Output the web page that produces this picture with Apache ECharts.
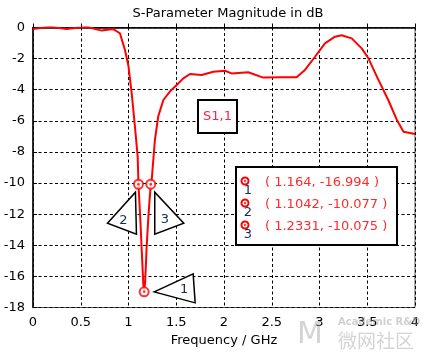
<!DOCTYPE html>
<html><head><meta charset="utf-8">
<script src="https://cdn.jsdelivr.net/npm/echarts@6/dist/echarts.min.js"></script>
<style>html,body{margin:0;padding:0;background:#fff}#c{width:430px;height:357px}</style>
</head><body><div id="c"></div>
<script>
const freq = [0,0.18,0.35,0.56,0.72,0.84,0.91,0.963,1.0,1.033,1.068,1.096,1.1042,1.125,1.14,1.155,1.164,1.175,1.19,1.21,1.2331,1.243,1.277,1.312,1.365,1.435,1.505,1.574,1.644,1.766,1.888,2.01,2.08,2.254,2.41,2.604,2.76,2.848,2.953,3.057,3.162,3.232,3.337,3.442,3.512,3.617,3.72,3.81,3.88,4.0];
const s11 = [-0.1,0.05,-0.1,0.05,-0.2,-0.1,-0.37,-1.45,-2.5,-4.2,-6.4,-8.3,-10.077,-12.5,-14.5,-16.5,-16.994,-16.3,-14.1,-12.0,-10.075,-9.8,-7.2,-5.7,-4.66,-4.1,-3.7,-3.27,-2.99,-3.05,-2.84,-2.78,-2.95,-2.88,-3.22,-3.2,-3.2,-2.73,-1.88,-1.02,-0.59,-0.5,-0.7,-1.34,-1.98,-3.37,-4.66,-5.94,-6.7,-6.85];
const markerFreq = [1.164, 1.1042, 1.2331];
const markerDb = [-16.994, -10.077, -10.075];
const markerNames = ['1','2','3'];
const legendTexts = ['( 1.164, -16.994 )','( 1.1042, -10.077 )','( 1.2331, -10.075 )'];
const titleText = 'S-Parameter Magnitude in dB';
const xLabel = 'Frequency / GHz';
const curveName = 'S1,1';

const FONT = 'DejaVu Sans';
const FS = 13;
const chart = echarts.init(document.getElementById('c'), null, {renderer:'canvas'});
const dashed = {type:[3,2.5], color:'#000', width:1};
chart.setOption({
  animation:false,
  title:{text:titleText, left:223, top:2, textAlign:'center', textStyle:{fontFamily:FONT,fontSize:FS,fontWeight:'normal',color:'#000'}},
  grid:{left:33, right:15, top:27.5, bottom:49.5, show:true, borderColor:'#555', borderWidth:1},
  xAxis:{type:'value', min:0, max:4, interval:0.5,
    name:xLabel, nameLocation:'middle', nameGap:24, nameTextStyle:{fontFamily:FONT,fontSize:FS,color:'#000'},
    axisLine:{lineStyle:{color:'#000',width:1.5}}, axisTick:{inside:true,length:4,lineStyle:{color:'#000'}},
    axisLabel:{fontFamily:FONT,fontSize:FS,color:'#000',margin:9},
    splitLine:{show:true,lineStyle:dashed}},
  yAxis:{type:'value', min:-18, max:0, interval:2,
    axisLine:{show:true,lineStyle:{color:'#000',width:1.5}}, axisTick:{show:true,inside:true,length:4,lineStyle:{color:'#000'}},
    axisLabel:{fontFamily:FONT,fontSize:FS,color:'#000',margin:8},
    splitLine:{show:true,lineStyle:dashed}},
  series:[
    {type:'line', data:freq.map((f,i)=>[f,s11[i]]), showSymbol:false, lineStyle:{color:'#ff0000',width:2}, z:3},
    {type:'scatter', data:markerFreq.map((f,i)=>[f,markerDb[i]]), symbol:'circle', symbolSize:9,
      itemStyle:{color:'#fff',borderColor:'#ff0000',borderWidth:2}, z:5},
    {type:'scatter', data:markerFreq.map((f,i)=>[f,markerDb[i]]), symbol:'circle', symbolSize:2.5,
      itemStyle:{color:'#ff0000'}, z:6}
  ]
});

const pts = markerFreq.map((f,i)=>chart.convertToPixel({gridIndex:0},[f,markerDb[i]]));
const triOffsets = [
  [[10,0],[49,-18],[51,11]],
  [[-31,39],[-3,8],[-2,50]],
  [[4,8],[4,50],[33,39]]
];
const numOffsets = [[40,-2],[-15,36],[14,35]];
const g = [];
pts.forEach((p,i)=>{
  g.push({type:'polygon', shape:{points:triOffsets[i].map(o=>[p[0]+o[0],p[1]+o[1]])},
    style:{fill:'#fff',stroke:'#000',lineWidth:1.5}, z:10});
  g.push({type:'text', x:p[0]+numOffsets[i][0], y:p[1]+numOffsets[i][1],
    style:{text:markerNames[i],fontFamily:FONT,fontSize:FS,fill:'#1c2a50',align:'center',verticalAlign:'middle'}, z:11});
});
// S1,1 box
g.push({type:'rect', shape:{x:198,y:100,width:39,height:33}, style:{fill:'#fff',stroke:'#000',lineWidth:2}, z:10});
g.push({type:'text', x:217.5, y:117, style:{text:curveName,fontFamily:FONT,fontSize:FS,fill:'#ff2050',align:'center',verticalAlign:'middle'}, z:11});
// marker legend box
g.push({type:'rect', shape:{x:236,y:167,width:161,height:78}, style:{fill:'#fff',stroke:'#000',lineWidth:2}, z:10});
const rowY = [183, 205, 227];
rowY.forEach((y,i)=>{
  g.push({type:'circle', shape:{cx:245,cy:y-2,r:3.5}, style:{fill:'#fff',stroke:'#ff0000',lineWidth:2}, z:11});
  g.push({type:'circle', shape:{cx:245,cy:y-2,r:1}, style:{fill:'#ff0000'}, z:12});
  g.push({type:'text', x:248, y:y+8, style:{text:markerNames[i],fontFamily:FONT,fontSize:FS,fill:'#1c2a50',align:'center',verticalAlign:'middle'}, z:11});
  g.push({type:'text', x:265, y:y, style:{text:legendTexts[i],fontFamily:FONT,fontSize:FS,fill:'#ff2a2a',align:'left',verticalAlign:'middle'}, z:11});
});
// watermark
g.push({type:'text', x:310, y:335, style:{text:'M',fontFamily:FONT,fontSize:30,fill:'rgba(160,160,160,0.45)',align:'center',verticalAlign:'middle'}, z:1});
g.push({type:'text', x:338, y:322, style:{text:'Academic R&D',fontFamily:FONT,fontSize:10,fontWeight:'bold',fill:'rgba(160,160,160,0.5)',align:'left',verticalAlign:'middle'}, z:1});
g.push({type:'text', x:338, y:341, style:{text:'微网社区',fontFamily:'Noto Sans CJK SC',fontSize:19,fill:'rgba(160,160,160,0.45)',align:'left',verticalAlign:'middle'}, z:1});
chart.setOption({graphic:g});
</script></body></html>
